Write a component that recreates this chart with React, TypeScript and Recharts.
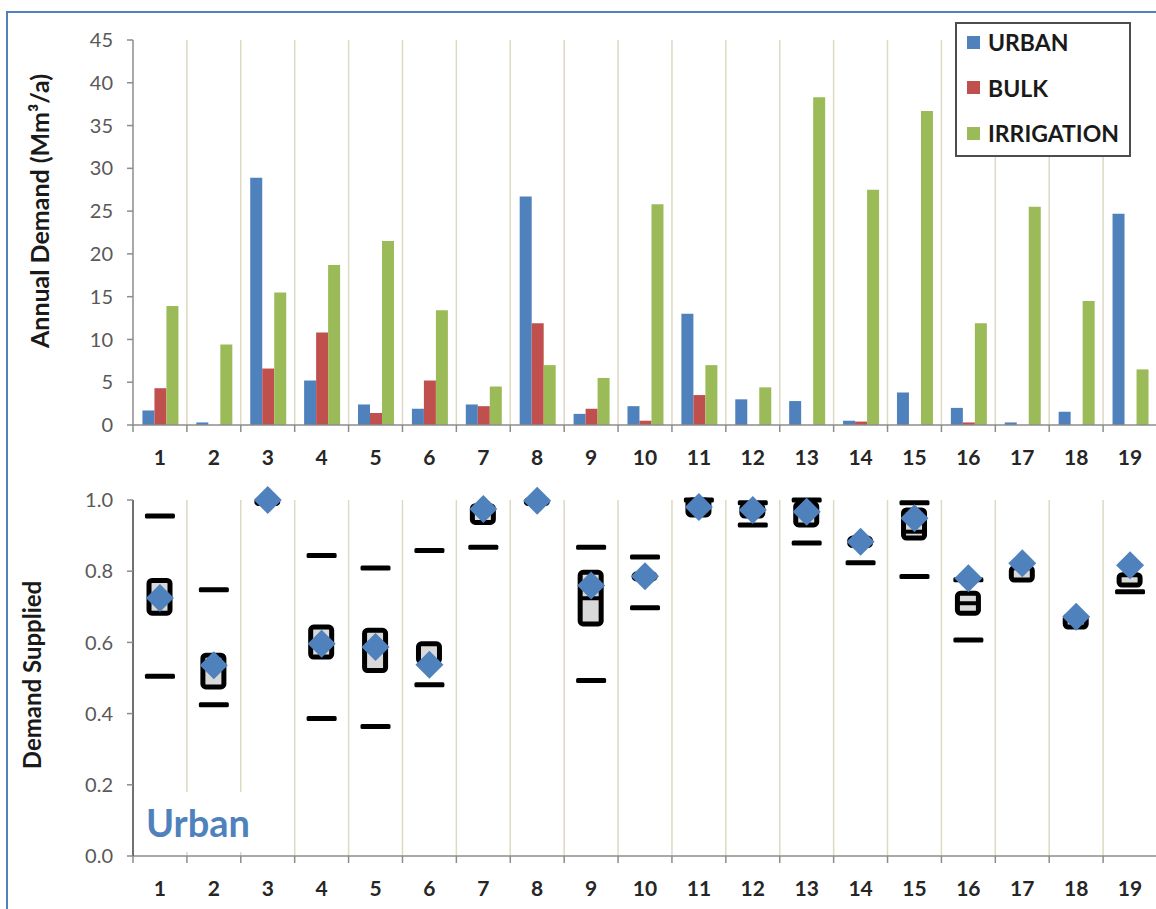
import React from 'react'
import { BarChart, Bar, ComposedChart, Scatter, XAxis, YAxis, CartesianGrid, Legend } from 'recharts'

const zones = ['1', '2', '3', '4', '5', '6', '7', '8', '9', '10', '11', '12', '13', '14', '15', '16', '17', '18', '19']
const seriesOrder = ['URBAN', 'BULK', 'IRRIGATION']

// annual demand, Mm3/a
const urban = [1.7, 0.3, 28.9, 5.2, 2.4, 1.9, 2.4, 26.7, 1.3, 2.2, 13.0, 3.0, 2.8, 0.5, 3.8, 2.0, 0.3, 1.55, 24.7]
const bulk = [4.3, 0, 6.6, 10.8, 1.4, 5.2, 2.2, 11.9, 1.9, 0.5, 3.5, 0, 0, 0.4, 0, 0.3, 0, 0, 0]
const irrigation = [13.9, 9.4, 15.5, 18.7, 21.5, 13.4, 4.5, 7.0, 5.5, 25.8, 7.0, 4.4, 38.3, 27.5, 36.7, 11.9, 25.5, 14.5, 6.5]
const demandTicks = [0, 5, 10, 15, 20, 25, 30, 35, 40, 45]

// urban demand supplied (fraction)
const whiskerHigh = [0.955, 0.748, null, 0.844, 0.809, 0.858, null, null, 0.867, 0.84, 1.0, 0.992, 1.0, null, 0.992, 0.776, null, null, null]
const boxLow = [0.682, 0.475, 0.99, 0.559, 0.521, 0.545, 0.937, 0.99, 0.652, 0.778, 0.958, 0.955, 0.93, 0.872, 0.893, 0.682, 0.775, 0.643, 0.761]
const boxHigh = [0.774, 0.564, 1.0, 0.643, 0.634, 0.596, 0.984, 1.0, 0.797, 0.792, 1.0, 0.985, 0.99, 0.893, 0.972, 0.738, 0.81, 0.675, 0.79]
const boxMid = [null, null, null, null, null, null, null, null, 0.724, null, null, null, null, null, 0.911, 0.71, null, null, null]
const whiskerLow = [0.505, 0.425, null, 0.386, 0.364, 0.481, 0.867, null, 0.493, 0.697, null, 0.93, 0.879, 0.824, 0.785, 0.607, null, null, 0.742]
const supplied = [0.725, 0.536, 1.0, 0.596, 0.587, 0.537, 0.975, 0.998, 0.76, 0.786, 0.98, 0.972, 0.967, 0.883, 0.949, 0.78, 0.822, 0.672, 0.817]
const suppliedTicks = [0, 0.2, 0.4, 0.6, 0.8, 1.0]

const topData = zones.map((z, i) => ({ zone: z, URBAN: urban[i], BULK: bulk[i], IRRIGATION: irrigation[i] }))
const bottomData = zones.map((z, i) => ({
  zone: z,
  box: [boxLow[i], boxHigh[i]],
  hi: whiskerHigh[i],
  lo: whiskerLow[i],
  mid: boxMid[i],
  val: supplied[i],
}))

const FONT = 'Lato, "Open Sans", sans-serif'
const AXIS = '#8c8c8c'
const GRID = '#ddd9c3'

function boundaries({ offset }: any) {
  const out: number[] = []
  for (let i = 1; i <= zones.length; i++) out.push(offset.left + (i * offset.width) / zones.length)
  return out
}

function ZoneTick(props: any) {
  const { x, y, payload, index, visibleTicksCount } = props
  const half = payload.offset ?? 26.95
  return (
    <g>
      <line x1={x - half} x2={x - half} y1={y} y2={y + 7} stroke={AXIS} strokeWidth={1.5} />
      {index === visibleTicksCount - 1 && <line x1={x + half} x2={x + half} y1={y} y2={y + 7} stroke={AXIS} strokeWidth={1.5} />}
      <text x={x} y={y + 40} textAnchor="middle" fontFamily={FONT} fontWeight={700} fontSize={21} fill="#262626">
        {payload.value}
      </text>
    </g>
  )
}

function renderLegend(props: any) {
  const items = [...props.payload].sort((a: any, b: any) => seriesOrder.indexOf(a.value) - seriesOrder.indexOf(b.value))
  return (
    <div style={{ width: '100%', height: '100%', boxSizing: 'border-box', border: '2px solid #4d4d4d', background: '#fff' }}>
      {items.map((entry: any, i: number) => (
        <div key={entry.value} style={{ display: 'flex', alignItems: 'center', height: 30, marginTop: i === 0 ? 3 : 15.5 }}>
          <span style={{ width: 13, height: 13, background: entry.color, marginLeft: 10, marginRight: 8 }} />
          <span style={{ fontFamily: FONT, fontWeight: 700, fontSize: 23, color: '#1a1a1a' }}>{entry.value}</span>
        </div>
      ))}
    </div>
  )
}

const Whisker = (p: any) =>
  p.cy == null || isNaN(p.cy) ? <g /> : <rect x={p.cx - 15} y={p.cy - 2.5} width={30} height={5} rx={1.5} fill="#000" />

const MidLine = (p: any) =>
  p.cy == null || isNaN(p.cy) || p.payload.mid == null ? <g /> : <rect x={p.cx - 10} y={p.cy - 2} width={20} height={4} fill="#000" />

const Diamond = (p: any) =>
  p.cy == null || isNaN(p.cy) ? <g /> : (
    <polygon points={`${p.cx},${p.cy - 14} ${p.cx + 14},${p.cy} ${p.cx},${p.cy + 14} ${p.cx - 14},${p.cy}`} fill="#4f81bd" />
  )

export default function App() {
  return (
    <div style={{ position: 'absolute', left: 0, top: 0, width: 1156, height: 909, overflow: 'hidden', background: '#fff' }}>
      <div style={{ position: 'absolute', left: 6, top: 11, right: -10, bottom: -10, borderTop: '2px solid #4f81bd', borderLeft: '2px solid #4f81bd' }} />

      <div style={{ position: 'absolute', left: 0, top: 0 }}>
        <BarChart width={1180} height={480} data={topData} margin={{ top: 40, right: 23, left: 73, bottom: 0 }} barCategoryGap="17.5%" barGap={0}>
          <CartesianGrid horizontal={false} stroke={GRID} strokeWidth={1.5} verticalCoordinatesGenerator={boundaries} />
          <XAxis dataKey="zone" height={55} interval={0} tickLine={false} tickSize={0} tickMargin={0} axisLine={{ stroke: AXIS, strokeWidth: 1.5 }} tick={<ZoneTick />} />
          <YAxis
            width={60}
            domain={[0, 45]}
            ticks={demandTicks}
            interval={0}
            tickSize={6}
            tickMargin={14}
            axisLine={{ stroke: AXIS, strokeWidth: 1.5 }}
            tickLine={{ stroke: AXIS, strokeWidth: 1.5 }}
            tick={{ fill: '#595959', fontSize: 20, fontFamily: FONT }}
          />
          <Legend layout="vertical" align="center" verticalAlign="middle" wrapperStyle={{ top: 22, left: 955, width: 176, height: 135 }} content={renderLegend} />
          <Bar dataKey="URBAN" fill="#4f81bd" isAnimationActive={false} />
          <Bar dataKey="BULK" fill="#c0504d" isAnimationActive={false} />
          <Bar dataKey="IRRIGATION" fill="#9bbb59" isAnimationActive={false} />
        </BarChart>
      </div>

      <div style={{ position: 'absolute', left: 0, top: 470 }}>
        <ComposedChart width={1180} height={439} data={bottomData} margin={{ top: 30, right: 23, left: 73, bottom: 0 }}>
          <CartesianGrid horizontal={false} stroke={GRID} strokeWidth={1.5} verticalCoordinatesGenerator={boundaries} />
          <XAxis dataKey="zone" height={53} interval={0} tickLine={false} tickSize={0} tickMargin={0} axisLine={{ stroke: AXIS, strokeWidth: 1.5 }} tick={<ZoneTick />} />
          <YAxis
            width={60}
            domain={[0, 1]}
            ticks={suppliedTicks}
            interval={0}
            tickSize={6}
            tickMargin={14}
            tickFormatter={(v: number) => v.toFixed(1)}
            axisLine={{ stroke: '#404040', strokeWidth: 1.5 }}
            tickLine={{ stroke: AXIS, strokeWidth: 1.5 }}
            tick={{ fill: '#595959', fontSize: 20, fontFamily: FONT }}
          />
          <Bar dataKey="box" barSize={21} fill="#d9d9d9" stroke="#000" strokeWidth={5} radius={3} isAnimationActive={false} />
          <Scatter dataKey="hi" shape={(p: any) => (p.payload.hi == null ? <g /> : <Whisker {...p} />)} isAnimationActive={false} />
          <Scatter dataKey="lo" shape={(p: any) => (p.payload.lo == null ? <g /> : <Whisker {...p} />)} isAnimationActive={false} />
          <Scatter dataKey="mid" shape={(p: any) => <MidLine {...p} />} isAnimationActive={false} />
          <Scatter dataKey="val" shape={(p: any) => <Diamond {...p} />} isAnimationActive={false} />
        </ComposedChart>
      </div>

      <div style={{ position: 'absolute', left: 39, top: 211, transform: 'translate(-50%, -50%) rotate(-90deg)', whiteSpace: 'nowrap', fontFamily: FONT, fontWeight: 700, fontSize: 25, color: '#1a1a1a' }}>
        Annual Demand (Mm³/a)
      </div>
      <div style={{ position: 'absolute', left: 31, top: 675, transform: 'translate(-50%, -50%) rotate(-90deg)', whiteSpace: 'nowrap', fontFamily: FONT, fontWeight: 700, fontSize: 24, color: '#1a1a1a' }}>
        Demand Supplied
      </div>
      <div style={{ position: 'absolute', left: 138, top: 792, width: 126, height: 60, background: '#fff', boxSizing: 'border-box', paddingLeft: 8, fontFamily: FONT, fontWeight: 700, fontSize: 38, lineHeight: '60px', color: '#4f81bd' }}>
        Urban
      </div>
    </div>
  )
}
